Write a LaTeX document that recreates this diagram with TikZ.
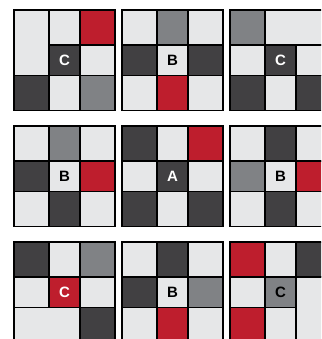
\documentclass[tikz,border=0pt]{standalone}
\usepackage{fontspec}
\setmainfont{Liberation Sans}
\usepackage{tikz}

\definecolor{cellLight}{HTML}{E6E7E8}
\definecolor{cellGray}{HTML}{808285}
\definecolor{cellDark}{HTML}{414042}
\definecolor{cellRed}{HTML}{BE1E2D}

\begin{document}
\begin{tikzpicture}[
x=1pt, y=-1pt,
cell/.style={draw=black, line width=1.1pt},
lt/.style={cell, fill=cellLight},
gr/.style={cell, fill=cellGray},
dk/.style={cell, fill=cellDark},
rd/.style={cell, fill=cellRed},
tag/.style={font=\fontsize{15}{15}\selectfont\bfseries, inner sep=0pt},
]

\useasboundingbox (0,0) rectangle (321,339);
\clip (0,0) rectangle (321,339);

% top row
\begin{scope}[shift={(14,10)}]
\draw[lt] (0,0) rectangle (35,65.5);
\draw[lt] (35,0) rectangle (66,35);
\draw[rd] (66,0) rectangle (101,35);
\draw[dk] (35,35) rectangle (66,65.5);
\draw[lt] (66,35) rectangle (101,65.5);
\draw[dk] (0,65.5) rectangle (35,100.5);
\draw[lt] (35,65.5) rectangle (66,100.5);
\draw[gr] (66,65.5) rectangle (101,100.5);
\node[tag, white] (tagTL) at (50.5,50.25) {C};
\end{scope}

\begin{scope}[shift={(122,10)}]
\draw[lt] (0,0) rectangle (35,35);
\draw[gr] (35,0) rectangle (66,35);
\draw[lt] (66,0) rectangle (101,35);
\draw[dk] (0,35) rectangle (35,65.5);
\draw[lt] (35,35) rectangle (66,65.5);
\draw[dk] (66,35) rectangle (101,65.5);
\draw[lt] (0,65.5) rectangle (35,100.5);
\draw[rd] (35,65.5) rectangle (66,100.5);
\draw[lt] (66,65.5) rectangle (101,100.5);
\node[tag, black] (tagTM) at (50.5,50.25) {B};
\end{scope}

\begin{scope}[shift={(230,10)}]
\draw[gr] (0,0) rectangle (35,35);
\draw[lt] (35,0) rectangle (101,35);
\draw[lt] (0,35) rectangle (35,65.5);
\draw[dk] (35,35) rectangle (66,65.5);
\draw[lt] (66,35) rectangle (101,65.5);
\draw[dk] (0,65.5) rectangle (35,100.5);
\draw[lt] (35,65.5) rectangle (66,100.5);
\draw[dk] (66,65.5) rectangle (101,100.5);
\node[tag, white] (tagTR) at (50.5,50.25) {C};
\end{scope}

% middle row
\begin{scope}[shift={(14,126)}]
\draw[lt] (0,0) rectangle (35,35);
\draw[gr] (35,0) rectangle (66,35);
\draw[lt] (66,0) rectangle (101,35);
\draw[dk] (0,35) rectangle (35,65.5);
\draw[lt] (35,35) rectangle (66,65.5);
\draw[rd] (66,35) rectangle (101,65.5);
\draw[lt] (0,65.5) rectangle (35,100.5);
\draw[dk] (35,65.5) rectangle (66,100.5);
\draw[lt] (66,65.5) rectangle (101,100.5);
\node[tag, black] (tagML) at (50.5,50.25) {B};
\end{scope}

\begin{scope}[shift={(122,126)}]
\draw[dk] (0,0) rectangle (35,35);
\draw[lt] (35,0) rectangle (66,35);
\draw[rd] (66,0) rectangle (101,35);
\draw[lt] (0,35) rectangle (35,65.5);
\draw[dk] (35,35) rectangle (66,65.5);
\draw[lt] (66,35) rectangle (101,65.5);
\draw[dk] (0,65.5) rectangle (35,100.5);
\draw[lt] (35,65.5) rectangle (66,100.5);
\draw[dk] (66,65.5) rectangle (101,100.5);
\node[tag, white] (tagMM) at (50.5,50.25) {A};
\end{scope}

\begin{scope}[shift={(230,126)}]
\draw[lt] (0,0) rectangle (35,35);
\draw[dk] (35,0) rectangle (66,35);
\draw[lt] (66,0) rectangle (101,35);
\draw[gr] (0,35) rectangle (35,65.5);
\draw[lt] (35,35) rectangle (66,65.5);
\draw[rd] (66,35) rectangle (101,65.5);
\draw[lt] (0,65.5) rectangle (35,100.5);
\draw[dk] (35,65.5) rectangle (66,100.5);
\draw[lt] (66,65.5) rectangle (101,100.5);
\node[tag, black] (tagMR) at (50.5,50.25) {B};
\end{scope}

% bottom row
\begin{scope}[shift={(14,242)}]
\draw[dk] (0,0) rectangle (35,35);
\draw[lt] (35,0) rectangle (66,35);
\draw[gr] (66,0) rectangle (101,35);
\draw[lt] (0,35) rectangle (35,65.5);
\draw[rd] (35,35) rectangle (66,65.5);
\draw[lt] (66,35) rectangle (101,65.5);
\draw[lt] (0,65.5) rectangle (66,100.5);
\draw[dk] (66,65.5) rectangle (101,100.5);
\node[tag, white] (tagBL) at (50.5,50.25) {C};
\end{scope}

\begin{scope}[shift={(122,242)}]
\draw[lt] (0,0) rectangle (35,35);
\draw[dk] (35,0) rectangle (66,35);
\draw[lt] (66,0) rectangle (101,35);
\draw[dk] (0,35) rectangle (35,65.5);
\draw[lt] (35,35) rectangle (66,65.5);
\draw[gr] (66,35) rectangle (101,65.5);
\draw[lt] (0,65.5) rectangle (35,100.5);
\draw[rd] (35,65.5) rectangle (66,100.5);
\draw[lt] (66,65.5) rectangle (101,100.5);
\node[tag, black] (tagBM) at (50.5,50.25) {B};
\end{scope}

\begin{scope}[shift={(230,242)}]
\draw[rd] (0,0) rectangle (35,35);
\draw[lt] (35,0) rectangle (66,35);
\draw[dk] (66,0) rectangle (101,35);
\draw[lt] (0,35) rectangle (35,65.5);
\draw[gr] (35,35) rectangle (66,65.5);
\draw[lt] (66,35) rectangle (101,100.5);
\draw[rd] (0,65.5) rectangle (35,100.5);
\draw[lt] (35,65.5) rectangle (66,100.5);
\node[tag, black] (tagBR) at (50.5,50.25) {C};
\end{scope}

\end{tikzpicture}
\end{document}
